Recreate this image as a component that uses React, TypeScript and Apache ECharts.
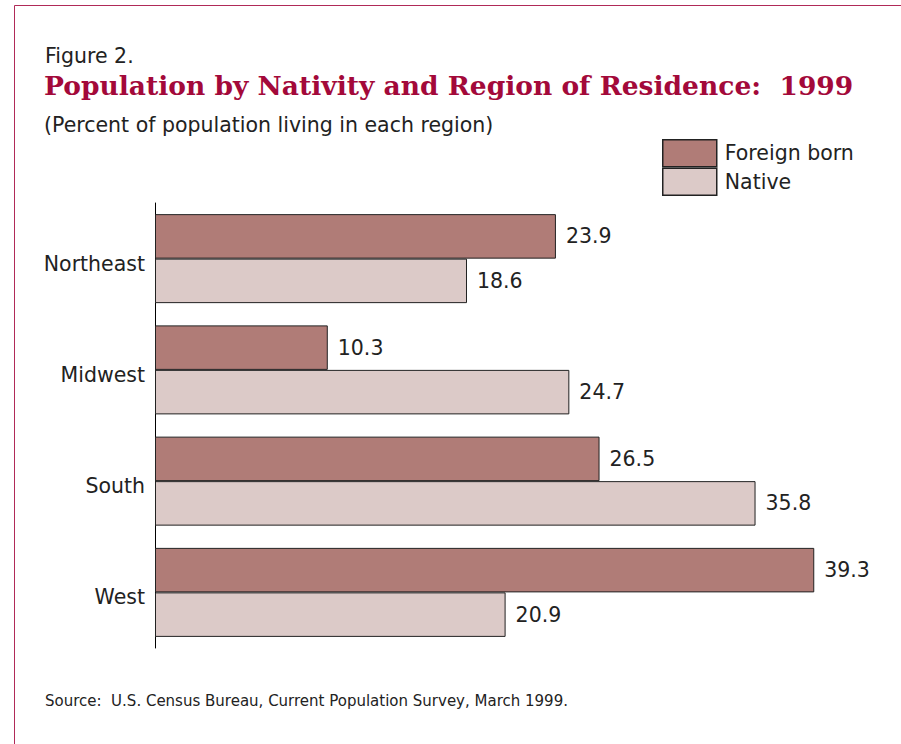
import React, { useEffect, useRef } from "react";
import * as echarts from "echarts";

const categories = ["Northeast", "Midwest", "South", "West"];
const foreignBorn = [23.9, 10.3, 26.5, 39.3];
const native = [18.6, 24.7, 35.8, 20.9];
const seriesNames = ["Foreign born", "Native"];

const TEXT = "#222222";
const SANS = "'DejaVu Sans', Verdana, sans-serif";
const CRIMSON = "#a3093a";
const FS = 20.5;

export default function App() {
  const ref = useRef<HTMLDivElement>(null);
  useEffect(() => {
    const chart = echarts.init(ref.current!, null, { renderer: "svg" });
    chart.setOption({
      animation: false,
      backgroundColor: "#ffffff",
      graphic: [
        { type: "line", shape: { x1: 14.5, y1: 5.5, x2: 901, y2: 5.5 }, style: { stroke: "#b02a58", lineWidth: 1 } },
        { type: "line", shape: { x1: 14.5, y1: 5.5, x2: 14.5, y2: 744 }, style: { stroke: "#b02a58", lineWidth: 1 } },
        { type: "text", left: 45, top: 45, style: { text: "Figure 2.", font: `${FS}px ${SANS}`, fill: TEXT } },
        { type: "text", left: 44, top: 72, style: { text: "Population by Nativity and Region of Residence:  1999", font: `bold 26.5px 'DejaVu Serif', serif`, fill: CRIMSON } },
        { type: "text", left: 44, top: 114, style: { text: "(Percent of population living in each region)", font: `${FS}px ${SANS}`, fill: TEXT } },
        { type: "text", left: 45, top: 693, style: { text: "Source:  U.S. Census Bureau, Current Population Survey, March 1999.", font: `15px ${SANS}`, fill: TEXT } },
      ],
      legend: {
        orient: "vertical",
        left: 662,
        top: 139,
        itemWidth: 54,
        itemHeight: 27,
        itemGap: 0,
        padding: 0,
        icon: "rect",
        selectedMode: false,
        data: seriesNames,
        textStyle: { fontFamily: SANS, fontSize: FS, color: TEXT, padding: [0, 0, 0, 3] },
        itemStyle: { borderColor: "#222", borderWidth: 1.5 },
      },
      grid: { left: 155, top: 203, width: 671, height: 445, containLabel: false },
      xAxis: {
        type: "value",
        min: 0,
        max: 40,
        show: false,
      },
      yAxis: {
        type: "category",
        data: categories,
        inverse: true,
        axisLine: { show: true, lineStyle: { color: "#000", width: 1 } },
        axisTick: { show: false },
        axisLabel: {
          margin: 10,
          formatter: "{v|{value}}",
          rich: { v: { fontFamily: SANS, fontSize: FS, color: TEXT, padding: [10, 0, 0, 0] } },
        },
      },
      series: [
        {
          name: seriesNames[0],
          type: "bar",
          data: foreignBorn,
          barGap: "0%",
          barCategoryGap: "20%",
          itemStyle: { color: "#b07c77", borderColor: "#222", borderWidth: 1 },
          label: { show: true, position: "right", distance: 10, fontFamily: SANS, fontSize: FS, color: TEXT, formatter: (p: any) => p.value.toFixed(1) },
        },
        {
          name: seriesNames[1],
          type: "bar",
          data: native,
          barGap: "0%",
          barCategoryGap: "20%",
          itemStyle: { color: "#dccac8", borderColor: "#222", borderWidth: 1 },
          label: { show: true, position: "right", distance: 10, fontFamily: SANS, fontSize: FS, color: TEXT, formatter: (p: any) => p.value.toFixed(1) },
        },
      ],
    });
    return () => chart.dispose();
  }, []);
  return <div ref={ref} style={{ position: "absolute", left: 0, top: 0, width: 901, height: 744 }} />;
}
